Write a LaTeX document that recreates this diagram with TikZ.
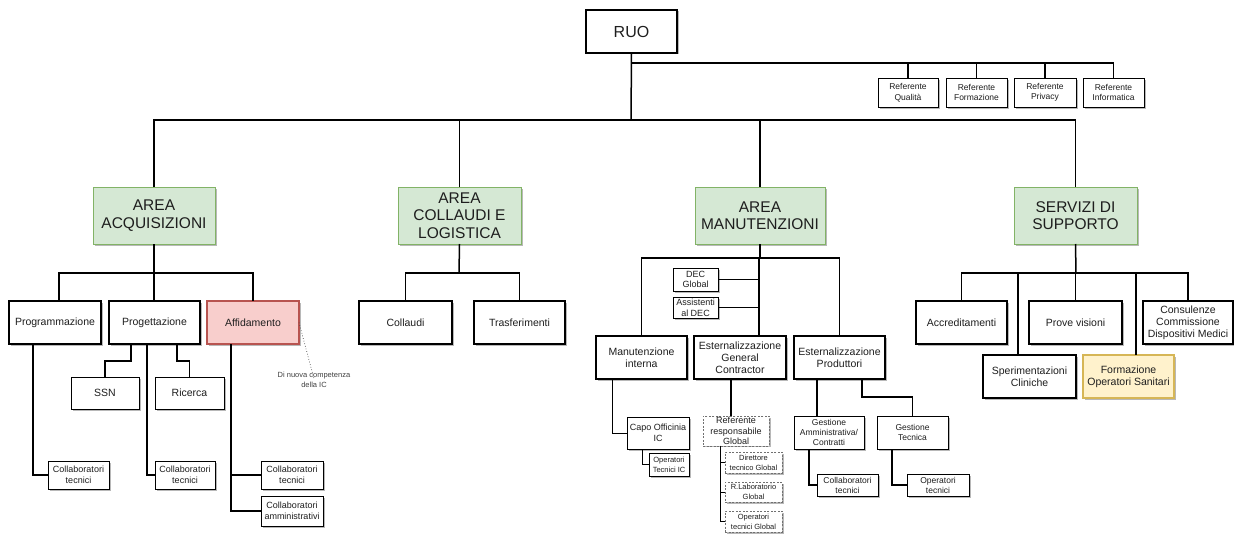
\documentclass[tikz,border=0pt]{standalone}
\usepackage{fontspec}
\setmainfont{Liberation Sans}
\usetikzlibrary{shadows}

\definecolor{txt}{HTML}{1E1E1E}
\definecolor{areafill}{HTML}{D5E8D4}
\definecolor{arealine}{HTML}{82B366}
\definecolor{redfill}{HTML}{F8CECC}
\definecolor{redline}{HTML}{B85450}
\definecolor{yelfill}{HTML}{FFF2CC}
\definecolor{yelline}{HTML}{D6B656}
\definecolor{dashline}{HTML}{707070}

\tikzset{
  base/.style={rectangle, inner sep=1pt, outer sep=0pt, align=center, text=txt,
    drop shadow={shadow xshift=1.5pt, shadow yshift=-1.5pt, opacity=0.28, fill=black}},
  wh/.style 2 args={minimum width=#1, minimum height=#2},
  areabox/.style={base, fill=areafill, draw=arealine, line width=0.8pt,
    font=\fontsize{15.5}{17.5}\selectfont},
  topbox/.style={base, fill=white, draw=black, line width=1.5pt,
    font=\fontsize{16}{18}\selectfont},
  unitbox/.style={base, fill=white, draw=black, line width=1.5pt,
    font=\fontsize{10.5}{11.8}\selectfont},
  leafbox/.style={base, fill=white, draw=black, line width=0.8pt,
    font=\fontsize{9}{10.6}\selectfont},
  refbox/.style={leafbox, font=\fontsize{8.5}{10.5}\selectfont},
  tinybox/.style={leafbox, font=\fontsize{7.5}{10}\selectfont},
  dashbox/.style={leafbox, draw=dashline, dash pattern=on 2pt off 1.5pt},
  conn/.style={draw=black, line width=1.5pt},
  thinconn/.style={draw=black, line width=0.8pt},
}

\begin{document}
\begin{tikzpicture}[x=1pt, y=-1pt]
\useasboundingbox (0,0) rectangle (1234,535);

% ---- top level ----
\node[topbox, wh={91}{43}] (ruo) at (631.5,31.5) {RUO};

\node[refbox, wh={60}{29}] (rq) at (908,92.5)    {Referente\\Qualità};
\node[refbox, wh={61}{29}] (rf) at (976.5,92.5)  {Referente\\Formazione};
\node[refbox, wh={62}{29}] (rp) at (1045,92.5)   {Referente\\Privacy};
\node[refbox, wh={61}{29}] (ri) at (1113.5,92.5) {Referente\\Informatica};

% ---- areas ----
\node[areabox, wh={122}{57}] (acq)  at (154,215.5)    {AREA\\ACQUISIZIONI};
\node[areabox, wh={123}{57}] (coll) at (459.5,215.5)  {AREA\\COLLAUDI E\\LOGISTICA};
\node[areabox, wh={130}{57}] (man)  at (760,215.5)    {AREA\\MANUTENZIONI};
\node[areabox, wh={123}{57}] (serv) at (1075.5,215.5) {SERVIZI DI\\SUPPORTO};

% ---- area acquisizioni ----
\node[unitbox, wh={92}{43}] (prgm) at (55,322.5)  {Programmazione};
\node[unitbox, wh={91}{43}] (prog) at (154.5,322.5) {Progettazione};
\node[unitbox, wh={92}{43}, fill=redfill, draw=redline] (aff) at (253,322.5) {Affidamento};
\node[leafbox, wh={68}{32}, font=\fontsize{10.5}{12}\selectfont] (ssn) at (105,393) {SSN};
\node[leafbox, wh={69}{32}, font=\fontsize{10.5}{12}\selectfont] (ric) at (189.5,393) {Ricerca};
\node[leafbox, wh={61}{28}] (ct1) at (78.5,475) {Collaboratori\\tecnici};
\node[leafbox, wh={60}{28}] (ct2) at (185,475)  {Collaboratori\\tecnici};
\node[leafbox, wh={62}{28}] (ct3) at (292,475)  {Collaboratori\\tecnici};
\node[leafbox, wh={62}{30}] (ca)  at (292,511)  {Collaboratori\\amministrativi};
\node[align=center, inner sep=0pt, text=txt!85, font=\fontsize{7.5}{10.5}\selectfont] (note) at (314,380)
  {Di nuova competenza\\della IC};

% ---- area collaudi e logistica ----
\node[unitbox, wh={93}{43}] (colla) at (405.5,322.5) {Collaudi};
\node[unitbox, wh={91}{43}] (trasf) at (519.5,322.5) {Trasferimenti};

% ---- area manutenzioni ----
\node[leafbox, wh={45}{23}] (dec) at (695.5,279.5) {DEC\\Global};
\node[leafbox, wh={45}{21}] (ass) at (695.5,307.5) {Assistenti\\al DEC};
\node[unitbox, wh={91}{43}] (mi) at (641.5,357.5) {Manutenzione\\interna};
\node[unitbox, wh={92}{43}] (gc) at (740,357.5)   {Esternalizzazione\\General\\Contractor};
\node[unitbox, wh={91}{43}] (ep) at (839.5,357.5) {Esternalizzazione\\Produttori};
\node[leafbox, wh={62}{32}] (capo) at (658,433)   {Capo Officinia\\IC};
\node[tinybox, wh={40}{23}] (opic) at (669,464.5) {Operatori\\Tecnici IC};
\node[dashbox, wh={66}{28}] (rrg) at (736,431)    {Referente\\responsabile\\Global};
\node[dashbox, wh={57}{21}, font=\fontsize{7.5}{10}\selectfont] (dtg) at (753.5,462.5) {Direttore\\tecnico Global};
\node[dashbox, wh={57}{20}, font=\fontsize{7.5}{10}\selectfont] (rlg) at (753.5,492)   {R.Laboratorio\\Global};
\node[dashbox, wh={57}{21}, font=\fontsize{7.5}{10}\selectfont] (otg) at (753.5,521.5) {Operatori\\tecnici Global};
\node[leafbox, wh={70}{33}, font=\fontsize{8.5}{10}\selectfont] (ga) at (829,432.5)   {Gestione\\Amministrativa/\\Contratti};
\node[leafbox, wh={71}{33}, font=\fontsize{8.5}{10}\selectfont] (gt) at (912.5,432.5) {Gestione\\Tecnica};
\node[leafbox, wh={61}{22}, font=\fontsize{8.5}{10}\selectfont] (ct4) at (847.5,485) {Collaboratori\\tecnici};
\node[leafbox, wh={62}{22}, font=\fontsize{8.5}{10}\selectfont] (opt) at (938,485)   {Operatori\\tecnici};

% ---- servizi di supporto ----
\node[unitbox, wh={91}{43}] (accr)  at (961.5,322.5)  {Accreditamenti};
\node[unitbox, wh={93}{43}] (prove) at (1075.5,322.5) {Prove visioni};
\node[unitbox, wh={90}{43}] (cons)  at (1188,322.5)   {Consulenze\\Commissione\\Dispositivi Medici};
\node[unitbox, wh={93}{43}] (sper)  at (1029.5,376.5) {Sperimentazioni\\Cliniche};
\node[unitbox, wh={91}{43}, fill=yelfill, draw=yelline] (form) at (1128.5,376.5) {Formazione\\Operatori Sanitari};

% ---- junction points of the buses ----
\coordinate (jr) at (631,63);
\coordinate (j0) at (631,120);
\coordinate (ja) at (154,273);
\coordinate (jc) at (459,273);
\coordinate (jm) at (759,258);
\coordinate (js) at (1076,273);

% ---- connectors: top ----
\draw[conn] (ruo.south) -- (j0);
\draw[conn] (jr) -| (ri.north);
\draw[conn] (rq.north) -- (rq.north |- jr);
\draw[conn] (rf.north) -- (rf.north |- jr);
\draw[conn] (rp.north) -- (rp.north |- jr);
\draw[conn] (acq.north) |- (j0) -| (serv.north);
\draw[conn] (coll.north) -- (coll.north |- j0);
\draw[conn] (man.north) -- (man.north |- j0);

% ---- connectors: acquisizioni ----
\draw[conn] (acq.south) -- (ja);
\draw[conn] ([xshift=4pt]prgm.north) |- (ja) -| (aff.north);
\draw[conn] (ja) -- (ja |- prog.north);
\draw[conn] ([xshift=-23.5pt]prog.south) -- ++(0,17) -| (ssn.north);
\draw[conn] ([xshift=22.5pt]prog.south) -- ++(0,17) -| (ric.north);
\draw[conn] ([xshift=-22pt]prgm.south) |- (ct1.west);
\draw[conn] ([xshift=-7.5pt]prog.south) |- (ct2.west);
\draw[conn] ([xshift=-22pt]aff.south) |- (ct3.west);
\draw[conn] ([xshift=-22pt]aff.south) |- (ca.west);
\draw[dotted, line width=0.7pt, draw=txt!80] (aff.east) -- ([yshift=-7pt]note.north);

% ---- connectors: collaudi ----
\draw[conn] (coll.south) -- (jc);
\draw[conn] (colla.north) |- (jc) -| (trasf.north);

% ---- connectors: manutenzioni ----
\draw[conn] (man.south) -- (man.south |- jm);
\draw[conn] (mi.north) |- (jm) -| (ep.north);
\draw[conn] (jm) -- (jm |- gc.north);
\draw[conn] (dec.east) -- (dec.east -| jm);
\draw[conn] (ass.east) -- (ass.east -| jm);
\draw[thinconn] ([xshift=-29.5pt]mi.south) |- (capo.west);
\draw[thinconn] ([xshift=-16pt]capo.south) |- (opic.west);
\draw[conn] ([xshift=-9pt]gc.south) -- ([xshift=-9pt]gc.south |- rrg.north);
\draw[thinconn] ([xshift=-16pt]rrg.south) |- (dtg.west);
\draw[thinconn] ([xshift=-16pt]rrg.south) |- (rlg.west);
\draw[thinconn] ([xshift=-16pt]rrg.south) |- (otg.west);
\draw[conn] ([xshift=-22.5pt]ep.south) -- ([xshift=-22.5pt]ep.south |- ga.north);
\draw[conn] ([xshift=22.5pt]ep.south) -- ++(0,18) -| (gt.north);
\draw[conn] ([xshift=-20pt]ga.south) |- (ct4.west);
\draw[conn] ([xshift=-20.5pt]gt.south) |- (opt.west);

% ---- connectors: servizi ----
\draw[conn] (serv.south) -- (js);
\draw[conn] (accr.north) |- (js) -| (cons.north);
\draw[conn] (prove.north) -- (prove.north |- js);
\draw[conn] ([xshift=-11.5pt]sper.north) -- ([xshift=-11.5pt]sper.north |- js);
\draw[conn] ([xshift=7.5pt]form.north) -- ([xshift=7.5pt]form.north |- js);
\end{tikzpicture}
\end{document}
